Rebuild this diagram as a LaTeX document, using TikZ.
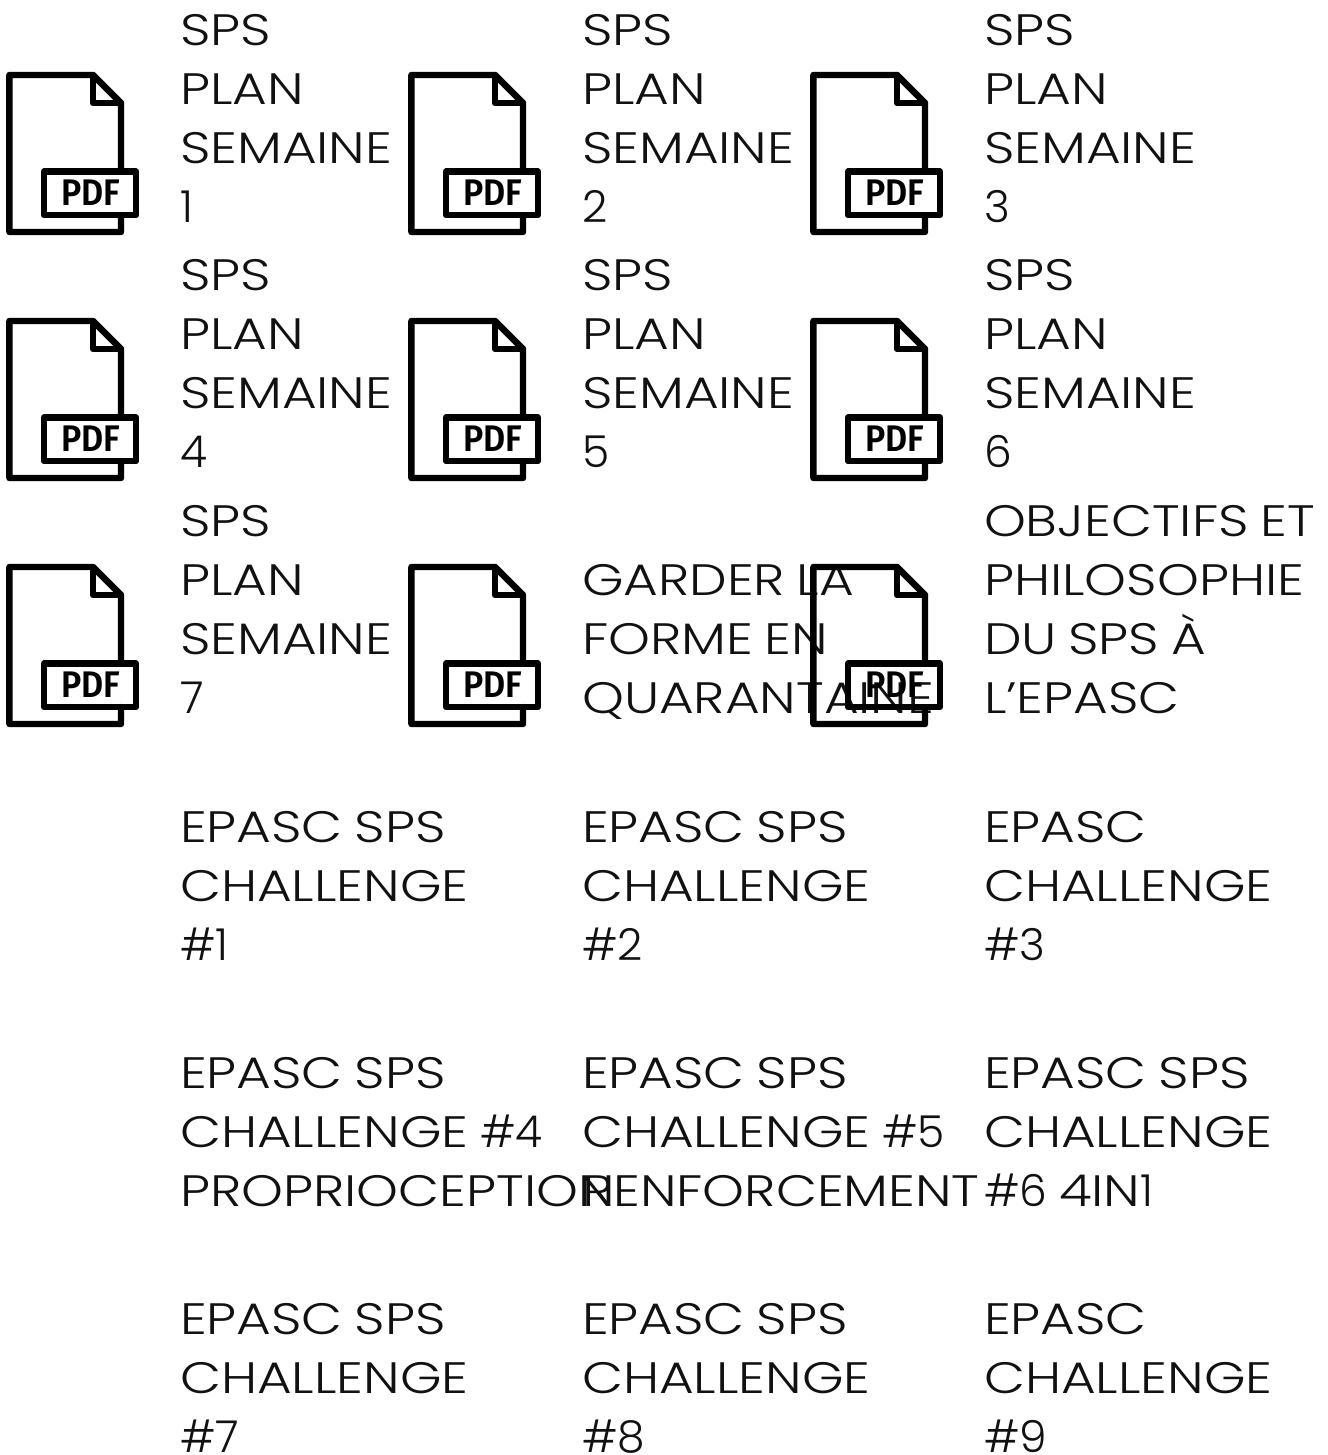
\documentclass[tikz,border=0pt]{standalone}
\usepackage{fontspec}
\setmainfont{Poppins}[UprightFont=* Light,FakeStretch=1.21,WordSpace=0.8]
\newfontfamily\numfont{Poppins}[UprightFont=* Light,FakeStretch=1.0]
\newfontfamily\pdffont{Fira Sans}[UprightFont=* SemiBold,FakeStretch=0.92]
\newcommand{\nm}[1]{{\numfont #1}}
\definecolor{inkc}{HTML}{111111}
\tikzset{
 lab/.style={anchor=north west,inner sep=0pt,outer sep=0pt,align=left,text=inkc,font=\fontsize{44}{59}\selectfont},
 iconline/.style={draw=black,line width=6.4pt,line join=round,line cap=round},
 pdflabel/.style={inner sep=0pt,text=black,font=\pdffont\fontsize{37}{37}\selectfont},
}
\newcommand{\pdficon}[3]{%
 \begin{scope}[shift={(#2,#3)}]
  \draw[iconline] (121,171) -- (121,103) -- (93,75) -- (9.4,75) -- (9.4,232) -- (121,232) -- (121,215);
  \draw[iconline] (93,75) -- (93,103) -- (121,103);
  \draw[iconline] (44,171.5) rectangle (136,215);
  \node[pdflabel] (#1) at (91,193) {PDF};
 \end{scope}}
\begin{document}
\begin{tikzpicture}[x=1pt,y=-1pt]
\useasboundingbox (0,0) rectangle (1327,1455);
\node[lab] (t1) at (180,14) {SPS\\PLAN\\SEMAINE\\\nm{1}};
\node[lab] (t2) at (582,14) {SPS\\PLAN\\SEMAINE\\\nm{2}};
\node[lab] (t3) at (984,14) {SPS\\PLAN\\SEMAINE\\\nm{3}};
\node[lab] (t4) at (180,259) {SPS\\PLAN\\SEMAINE\\\nm{4}};
\node[lab] (t5) at (582,259) {SPS\\PLAN\\SEMAINE\\\nm{5}};
\node[lab] (t6) at (984,259) {SPS\\PLAN\\SEMAINE\\\nm{6}};
\node[lab] (t7) at (180,505) {SPS\\PLAN\\SEMAINE\\\nm{7}};
\node[lab] (t8) at (582,564) {GARDER LA\\FORME EN\\QUARANTAINE};
\node[lab] (t9) at (984,505) {OBJECTIFS ET\\PHILOSOPHIE\\DU SPS À\\L\symbol{39}EPASC};
\node[lab] (c1) at (180,811) {EPASC SPS\\CHALLENGE\\\nm{\#1}};
\node[lab] (c2) at (582,811) {EPASC SPS\\CHALLENGE\\\nm{\#2}};
\node[lab] (c3) at (984,811) {EPASC\\CHALLENGE\\\nm{\#3}};
\node[lab] (c4) at (180,1057) {EPASC SPS\\CHALLENGE \nm{\#4}\\PROPRIOCEPTION};
\node[lab] (c5) at (582,1057) {EPASC SPS\\CHALLENGE \nm{\#5}\\RENFORCEMENT};
\node[lab] (c6) at (984,1057) {EPASC SPS\\CHALLENGE\\\nm{\#6} 4IN\nm{1}};
\node[lab] (c7) at (180,1303) {EPASC SPS\\CHALLENGE\\\nm{\#7}};
\node[lab] (c8) at (582,1303) {EPASC SPS\\CHALLENGE\\\nm{\#8}};
\node[lab] (c9) at (984,1303) {EPASC\\CHALLENGE\\\nm{\#9}};
\pdficon{i1}{0}{0}\pdficon{i2}{402}{0}\pdficon{i3}{804}{0}
\pdficon{i4}{0}{246}\pdficon{i5}{402}{246}\pdficon{i6}{804}{246}
\pdficon{i7}{0}{492}\pdficon{i8}{402}{492}\pdficon{i9}{804}{492}
\end{tikzpicture}
\end{document}
